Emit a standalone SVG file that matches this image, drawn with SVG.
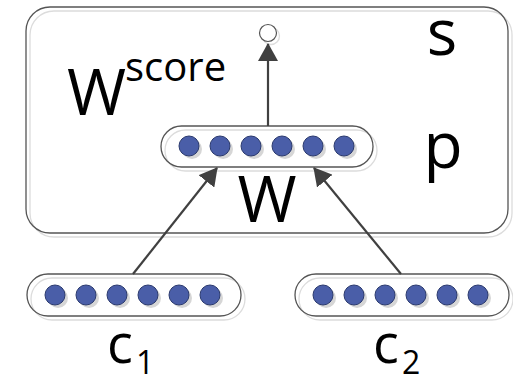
<svg xmlns="http://www.w3.org/2000/svg" width="513" height="377" viewBox="0 0 513 377">
<style>
.frame{fill:none;stroke:#555;stroke-width:1.3}
.shadow{fill:none;stroke:#dcdcdc;stroke-width:1.3}
.dotsh{fill:#d6d6d6}
.dot{fill:#4a5ea8;stroke:#2b3a6e;stroke-width:1}
.lbl{font-family:"Open Sans","Liberation Sans",sans-serif;fill:#000}
.conn{stroke:#404040;stroke-width:2.2;fill:none;marker-end:url(#ah)}
</style>
<defs>
<marker id="ah" viewBox="0 0 18 20" refX="17" refY="10" markerWidth="18" markerHeight="20" markerUnits="userSpaceOnUse" orient="auto">
<path d="M0,0 L18,10 L0,20 z" fill="#404040"/>
</marker>
<g id="dots6">
<circle class="dotsh" cx="3" cy="3" r="10"/><circle class="dot" cx="0" cy="0" r="10"/>
<circle class="dotsh" cx="34" cy="3" r="10"/><circle class="dot" cx="31" cy="0" r="10"/>
<circle class="dotsh" cx="65" cy="3" r="10"/><circle class="dot" cx="62" cy="0" r="10"/>
<circle class="dotsh" cx="96" cy="3" r="10"/><circle class="dot" cx="93" cy="0" r="10"/>
<circle class="dotsh" cx="127" cy="3" r="10"/><circle class="dot" cx="124" cy="0" r="10"/>
<circle class="dotsh" cx="158" cy="3" r="10"/><circle class="dot" cx="155" cy="0" r="10"/>
</g>
</defs>
<rect width="513" height="377" fill="#fff"/>
<g id="frame">
<rect class="shadow" x="30" y="11" width="482" height="226" rx="24"/>
<rect class="frame" x="26" y="7" width="482" height="226" rx="24"/>
</g>
<g id="out">
<circle cx="271" cy="36" r="8.5" fill="none" stroke="#ddd" stroke-width="1.3"/>
<circle cx="268" cy="33" r="8.5" fill="#fff" stroke="#555" stroke-width="1.2"/>
</g>
<g id="p">
<rect class="shadow" x="165" y="130" width="212" height="41" rx="20.5"/>
<rect class="frame" x="161" y="126" width="212" height="41" rx="20.5"/>
<use href="#dots6" x="189" y="146"/>
</g>
<g id="c1">
<rect class="shadow" x="31" y="278" width="214" height="42" rx="21"/>
<rect class="frame" x="27" y="274" width="214" height="42" rx="21"/>
<use href="#dots6" x="55" y="295"/>
</g>
<g id="c2">
<rect class="shadow" x="299" y="278" width="214" height="42" rx="21"/>
<rect class="frame" x="295" y="274" width="214" height="42" rx="21"/>
<use href="#dots6" x="323" y="295"/>
</g>
<g id="connectors">
<line class="conn" x1="268" y1="126" x2="268" y2="44"/>
<line class="conn" x1="133" y1="274" x2="217" y2="168"/>
<line class="conn" x1="401" y1="274" x2="314" y2="168"/>
</g>
<g id="labels">
<text class="lbl" x="67" y="115" font-size="64">W</text>
<text class="lbl" x="125" y="81" font-size="40">score</text>
<text class="lbl" x="442" y="55" font-size="64" text-anchor="middle">s</text>
<text class="lbl" x="443" y="168" font-size="64" text-anchor="middle">p</text>
<text class="lbl" x="267" y="222" font-size="64" text-anchor="middle">W</text>
<text class="lbl" x="107" y="363" font-size="54">c</text>
<text class="lbl" x="136" y="374" font-size="32">1</text>
<text class="lbl" x="373" y="363" font-size="54">c</text>
<text class="lbl" x="402" y="374" font-size="32">2</text>
</g>
</svg>
